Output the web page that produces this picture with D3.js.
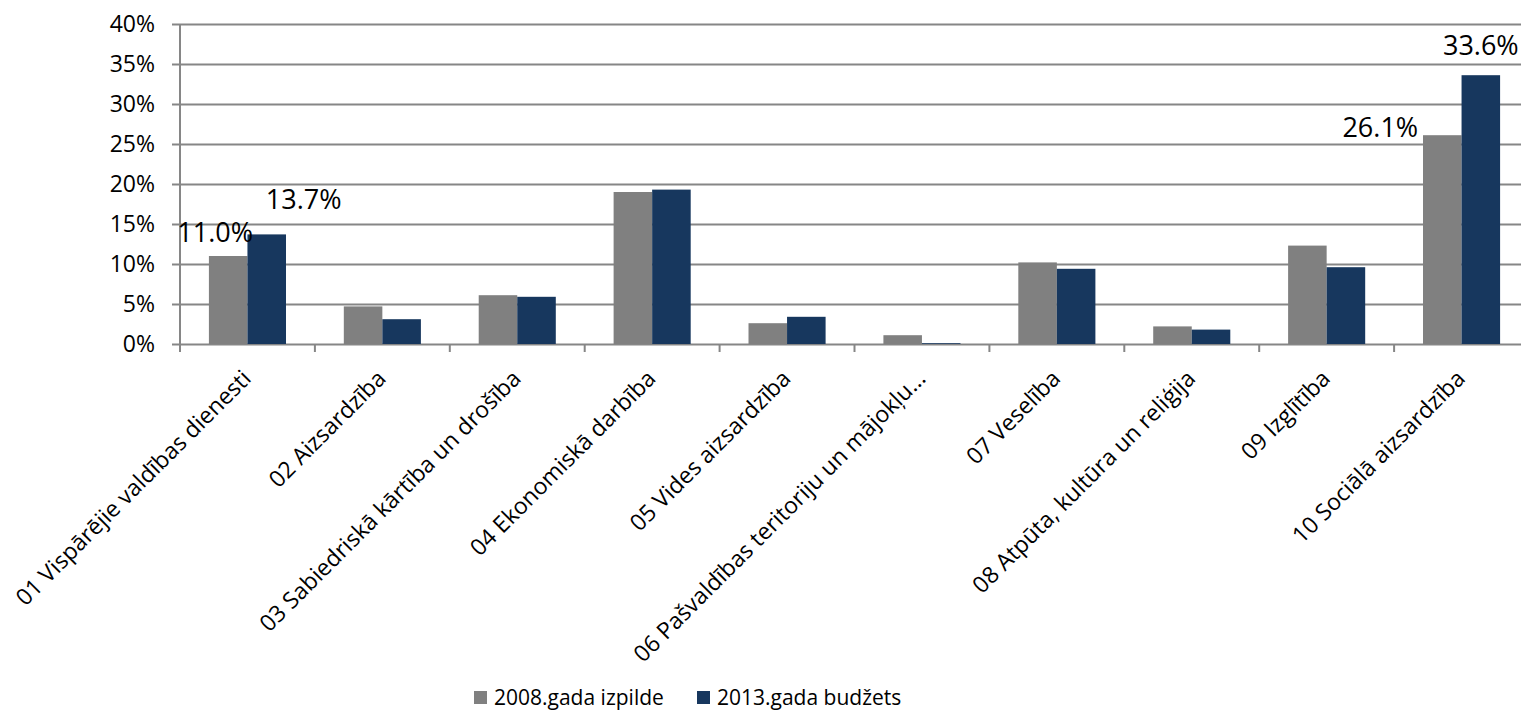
<!DOCTYPE html>
<html>
<head>
<meta charset="utf-8">
<script src="https://cdn.jsdelivr.net/npm/d3@7"></script>
<style>
  body { margin: 0; background: #fff; }
  svg { display: block; font-family: "Open Sans", "Noto Sans", sans-serif; }
</style>
</head>
<body>
<div id="chart"></div>
<script>
// data
var categories = [
  "01 Vispārējie valdības dienesti",
  "02 Aizsardzība",
  "03 Sabiedriskā kārtība un drošība",
  "04 Ekonomiskā darbība",
  "05 Vides aizsardzība",
  "06 Pašvaldības teritoriju un mājokļu...",
  "07 Veselība",
  "08 Atpūta, kultūra un reliģija",
  "09 Izglītība",
  "10 Sociālā aizsardzība"
];
var seriesNames = ["2008.gada izpilde", "2013.gada budžets"];
var values2008 = [11.0, 4.7, 6.1, 19.0, 2.6, 1.1, 10.2, 2.2, 12.3, 26.1];
var values2013 = [13.7, 3.1, 5.9, 19.3, 3.4, 0.1, 9.4, 1.8, 9.6, 33.6];
var yTicks = [0, 5, 10, 15, 20, 25, 30, 35, 40];
// which bars carry a data label: [category index, series index]
var labelled = [[0, 0], [0, 1], [9, 0], [9, 1]];

var colors = ["#808080", "#17375e"];
// manual label placement (as in the original chart), dx/dy from bar top centre
var labelOffsets = [[-13, -14], [37, -25], [-62, 2], [0, -20]];

var width = 1521,
    height = 717,
    margin = {top: 24, right: -8, bottom: 373, left: 180};

var svg = d3.select('#chart').append('svg')
  .attr('width', width)
  .attr('height', height);

var x0 = d3.scaleBand()
  .domain(d3.range(categories.length))
  .range([margin.left, width - margin.right])
  .padding(0);

var x1 = d3.scaleBand()
  .domain(d3.range(seriesNames.length))
  .range([0, x0.bandwidth()])
  .paddingInner(0)
  .paddingOuter(0.75);

var y = d3.scaleLinear()
  .domain([0, 40])
  .range([height - margin.bottom, margin.top]);

var grid = '#868686';

// gridlines + y labels
var yAxis = svg.append('g')
  .attr('transform', 'translate(' + margin.left + ',0)')
  .call(d3.axisLeft(y)
    .tickValues(yTicks)
    .tickSize(-(width - margin.right - margin.left))
    .tickSizeOuter(0)
    .tickPadding(25)
    .tickFormat(function(d) { return d + '%'; }));
yAxis.select('.domain').remove();
yAxis.selectAll('.tick line')
  .attr('x1', -8)
  .attr('stroke', grid)
  .attr('stroke-width', 2);
yAxis.selectAll('.tick text')
  .attr('font-size', '23px')
  .attr('fill', '#000')
  .attr('font-family', '"Open Sans", sans-serif');

// vertical axis line
svg.append('line')
  .attr('x1', margin.left).attr('x2', margin.left)
  .attr('y1', y(40)).attr('y2', y(0) + 8)
  .attr('stroke', grid)
  .attr('stroke-width', 2);

// category tick marks
svg.append('g').selectAll('line')
  .data(d3.range(1, categories.length + 1))
  .enter().append('line')
    .attr('x1', function(d) { return margin.left + d * x0.step(); })
    .attr('x2', function(d) { return margin.left + d * x0.step(); })
    .attr('y1', y(0))
    .attr('y2', y(0) + 8)
    .attr('stroke', grid)
    .attr('stroke-width', 2);

// bars
var rows = categories.map(function(c, i) { return [values2008[i], values2013[i]]; });

var groups = svg.append('g').selectAll('g')
  .data(rows)
  .enter().append('g')
    .attr('transform', function(d, i) { return 'translate(' + x0(i) + ',0)'; });

groups.selectAll('rect')
  .data(function(d) { return d; })
  .enter().append('rect')
    .attr('x', function(d, j) { return x1(j); })
    .attr('width', x1.bandwidth())
    .attr('y', function(d) { return y(d); })
    .attr('height', function(d) { return y(0) - y(d); })
    .attr('fill', function(d, j) { return colors[j]; });

// data labels
svg.append('g').selectAll('text')
  .data(labelled)
  .enter().append('text')
    .attr('x', function(d, k) { return x0(d[0]) + x1(d[1]) + x1.bandwidth() / 2 + labelOffsets[k][0]; })
    .attr('y', function(d, k) { return y(rows[d[0]][d[1]]) + labelOffsets[k][1]; })
    .attr('text-anchor', 'middle')
    .attr('font-size', '27px')
    .attr('fill', '#000')
    .text(function(d) { return rows[d[0]][d[1]].toFixed(1) + '%'; });

// category labels, rotated 45 degrees
svg.append('g').selectAll('text')
  .data(categories)
  .enter().append('text')
    .attr('transform', function(d, i) {
      return 'translate(' + (x0(i) + x0.bandwidth() / 2 + 5) + ',' + (y(0) + 36) + ') rotate(-45)';
    })
    .attr('text-anchor', 'end')
    .attr('font-size', '23px')
    .attr('fill', '#000')
    .text(function(d) { return d; });

// legend
var legendX = [474, 697];
var legend = svg.append('g').selectAll('g')
  .data(seriesNames)
  .enter().append('g')
    .attr('transform', function(d, i) { return 'translate(' + legendX[i] + ',691)'; });

legend.append('rect')
  .attr('width', 13)
  .attr('height', 13)
  .attr('fill', function(d, i) { return colors[i]; });

legend.append('text')
  .attr('x', 20)
  .attr('y', 14)
  .attr('font-size', '21px')
  .attr('fill', '#000')
  .text(function(d) { return d; });
</script>
</body>
</html>
